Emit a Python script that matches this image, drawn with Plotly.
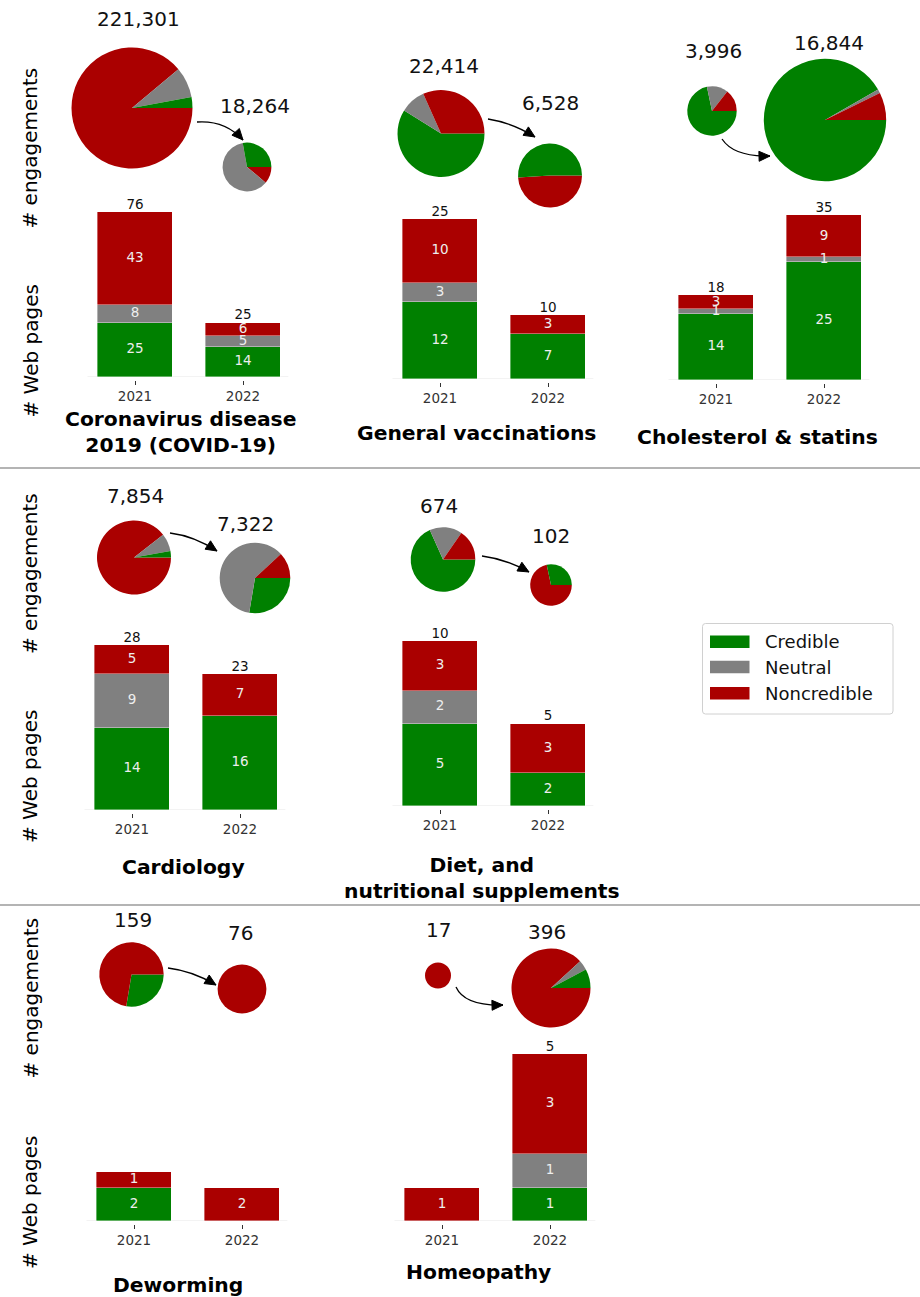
import plotly.graph_objects as go

W, H = 920, 1297
FONT = "DejaVu Sans"

# ---------------- data ----------------
topics = ["Coronavirus disease<br>2019 (COVID-19)", "General vaccinations",
          "Cholesterol & statins", "Cardiology",
          "Diet, and<br>nutritional supplements", "Deworming", "Homeopathy"]
years = ["2021", "2022"]
classes = ["Credible", "Neutral", "Noncredible"]

# number of web pages per credibility class
pages_credible_2021 = [25, 12, 14, 14, 5, 2, 0]
pages_neutral_2021 = [8, 3, 1, 9, 2, 0, 0]
pages_noncredible_2021 = [43, 10, 3, 5, 3, 1, 1]
pages_credible_2022 = [14, 7, 25, 16, 2, 0, 1]
pages_neutral_2022 = [5, 0, 1, 0, 0, 0, 1]
pages_noncredible_2022 = [6, 3, 9, 7, 3, 2, 3]

# total engagements
engagements_2021 = [221301, 22414, 3996, 7854, 674, 159, 17]
engagements_2022 = [18264, 6528, 16844, 7322, 102, 76, 396]

# share of engagements (%) per credibility class
share_credible_2021 = [2.9, 58.9, 71.7, 2.8, 68.3, 27.6, 0]
share_neutral_2021 = [8.2, 9.4, 13.9, 7.8, 16.3, 0, 0]
share_noncredible_2021 = [88.9, 31.7, 14.4, 89.4, 15.4, 72.4, 100]
share_credible_2022 = [27.8, 51.0, 91.7, 27.6, 28.3, 0, 7.8]
share_neutral_2022 = [61.1, 0, 1.0, 60.4, 0, 0, 4.0]
share_noncredible_2022 = [11.1, 49.0, 7.3, 11.9, 71.7, 100, 88.2]

# ---------------- styles / layout (pixels) ----------------
COLORS = ["#008000", "#808080", "#aa0000"]

bar_center0 = [135, 440, 716, 132, 440, 134, 442]      # x of first bar
bar_base = [377, 379, 380, 810, 806, 1221, 1221]        # y of baseline
bar_ytop = [76, 25, 35, 28, 10, 10, 5]                  # axis max
bar_px = [165, 160, 165, 165, 165, 165, 167]            # pixel height of axis
UNIT = 108.0
XR = (-0.44, 1.42)

pie1_c = [(132, 108), (441, 133.5), (712, 111), (134, 557.5), (443, 559.5), (131.5, 974.5), (438, 975.5)]
pie1_r = [60.5, 43.5, 24.7, 37, 32.3, 32.2, 13]
pie2_c = [(247, 167), (550, 175.5), (825, 120), (255, 578), (551, 585), (242, 989), (551, 988)]
pie2_r = [24.4, 32, 61.2, 35.3, 20.8, 24.4, 39.5]
# slice sense (True: credible, neutral, noncredible run clockwise from 3 o'clock)
pie1_cw = [False, True, True, False, True, True, True]
pie2_cw = [False, False, True, True, False, True, False]

lab1 = [(138, 18.5), (444, 66), (713, 51), (135.3, 495.5), (438.5, 506), (132.5, 919.5), (438.7, 929.5)]
lab2 = [(255.5, 106), (550, 103), (829, 43), (245, 524), (551.3, 535.5), (240.8, 933), (546.7, 932)]

arrows = [((197, 122), (225, 120), (243, 140)), ((488, 119), (513, 123), (535, 137)),
          ((722, 139), (734, 157), (770, 156)), ((170, 533), (194, 536), (217, 551)),
          ((482, 556), (506, 559), (529, 572)), ((168, 968), (193, 971), (216, 985)),
          ((456, 987), (464.5, 1006), (503, 1005))]

topic_pos = [(180.5, 432), (476, 433), (757, 437), (183, 867), (482, 877.5), (177.5, 1285), (478, 1272)]
ylab_eng = [148.5, 574, 998.5]
ylab_pages = [351.5, 777, 1203]


def px(x):
    return x / W


def py(y):
    return 1 - y / H


fig = go.Figure()
shapes = []
annotations = []

pages = {
    "2021": [pages_credible_2021, pages_neutral_2021, pages_noncredible_2021],
    "2022": [pages_credible_2022, pages_neutral_2022, pages_noncredible_2022],
}
shares = {
    "2021": [share_credible_2021, share_neutral_2021, share_noncredible_2021],
    "2022": [share_credible_2022, share_neutral_2022, share_noncredible_2022],
}

for i, topic in enumerate(topics):
    k = i + 1
    xa = "x" if k == 1 else f"x{k}"
    ya = "y" if k == 1 else f"y{k}"
    # stacked bars
    for c, cls in enumerate(classes):
        vals = [pages[yr][c][i] for yr in years]
        fig.add_trace(go.Bar(
            x=[0, 1], y=vals, width=0.70, xaxis=xa, yaxis=ya,
            marker=dict(color=COLORS[c], line=dict(width=0.7, color="rgba(255,255,255,0.55)")),
            showlegend=False, hoverinfo="skip", name=cls, cliponaxis=False))
    # segment labels
    sx, sy, st = [], [], []
    tx, ty, tt = [], [], []
    for j, yr in enumerate(years):
        cum = 0
        for c in range(3):
            v = pages[yr][c][i]
            if v > 0:
                sx.append(j)
                sy.append(cum + v / 2)
                st.append(str(v))
            cum += v
        if cum >= 5:  # totals are printed only for totals of five or more
            tx.append(j)
            ty.append(cum)
            tt.append(str(cum))
    fig.add_trace(go.Scatter(x=sx, y=sy, text=st, mode="text", xaxis=xa, yaxis=ya,
                             textfont=dict(family=FONT, size=13.5, color="#eeeeee"),
                             showlegend=False, hoverinfo="skip", cliponaxis=False))
    fig.add_trace(go.Scatter(x=tx, y=ty, text=tt, mode="text", textposition="top center",
                             xaxis=xa, yaxis=ya,
                             textfont=dict(family=FONT, size=13.5, color="#111111"),
                             showlegend=False, hoverinfo="skip", cliponaxis=False))
    x0 = bar_center0[i] + XR[0] * UNIT
    x1 = bar_center0[i] + XR[1] * UNIT
    fig.update_layout(**{
        ("xaxis" if k == 1 else f"xaxis{k}"): dict(
            domain=[px(x0), px(x1)], range=list(XR), anchor="free",
            position=py(bar_base[i] + 3), tickvals=[0, 1], ticktext=years,
            ticks="outside", ticklen=3.5, tickwidth=1.3, tickcolor="#333333",
            tickfont=dict(family=FONT, size=13.5, color="#333333"),
            showline=False, showgrid=False, zeroline=False, fixedrange=True),
        ("yaxis" if k == 1 else f"yaxis{k}"): dict(
            domain=[py(bar_base[i]), py(bar_base[i] - bar_px[i])], range=[0, bar_ytop[i] * 1.0001],
            visible=False, fixedrange=True),
    })
    shapes.append(dict(type="line", xref=f"{xa} domain", yref=ya, x0=0, x1=1, y0=0, y1=0,
                       line=dict(color="#e6e6e6", width=1), layer="below"))

    # pies
    for (cc, rr, cw, eng, lab, yr) in [
        (pie1_c[i], pie1_r[i], pie1_cw[i], engagements_2021[i], lab1[i], "2021"),
        (pie2_c[i], pie2_r[i], pie2_cw[i], engagements_2022[i], lab2[i], "2022"),
    ]:
        vals = [shares[yr][c][i] for c in range(3)]
        cols = list(COLORS)
        labs = list(classes)
        if not cw:
            vals, cols, labs = vals[::-1], cols[::-1], labs[::-1]
        fig.add_trace(go.Pie(
            values=vals, labels=labs, sort=False, direction="clockwise", rotation=90,
            marker=dict(colors=cols, line=dict(width=0)), textinfo="none",
            hoverinfo="skip", showlegend=False,
            domain=dict(x=[px(cc[0] - rr), px(cc[0] + rr)], y=[py(cc[1] + rr), py(cc[1] - rr)])))
        annotations.append(dict(x=px(lab[0]), y=py(lab[1]), xref="paper", yref="paper",
                                text=f"{eng:,}", showarrow=False, xanchor="center", yanchor="middle",
                                font=dict(family=FONT, size=20, color="#111111")))

    # curved arrow
    (sx0, sy0), (qx, qy), (ex, ey) = arrows[i]
    shapes.append(dict(type="path", xref="paper", yref="paper",
                       path=f"M {px(sx0)},{py(sy0)} Q {px(qx)},{py(qy)} {px(ex)},{py(ey)}",
                       line=dict(color="black", width=1.3)))
    dx, dy = ex - qx, ey - qy
    n = (dx * dx + dy * dy) ** 0.5
    dx, dy = dx / n, dy / n
    L, hw = 11, 5
    bx, by = ex - dx * L, ey - dy * L
    p1 = (bx - dy * hw, by + dx * hw)
    p2 = (bx + dy * hw, by - dx * hw)
    shapes.append(dict(type="path", xref="paper", yref="paper",
                       path=f"M {px(ex)},{py(ey)} L {px(p1[0])},{py(p1[1])} L {px(p2[0])},{py(p2[1])} Z",
                       fillcolor="black", line=dict(color="black", width=1)))

    # topic title
    annotations.append(dict(x=px(topic_pos[i][0]), y=py(topic_pos[i][1]), xref="paper", yref="paper",
                            text=f"<b>{topic}</b>", showarrow=False, xanchor="center", yanchor="middle",
                            align="center", font=dict(family=FONT, size=20.3, color="black")))

# row labels
for ye, yp in zip(ylab_eng, ylab_pages):
    annotations.append(dict(x=px(30), y=py(ye), xref="paper", yref="paper", text="# engagements",
                            textangle=-90, showarrow=False, xanchor="center", yanchor="middle",
                            font=dict(family=FONT, size=20, color="black")))
    annotations.append(dict(x=px(30), y=py(yp), xref="paper", yref="paper", text="# Web pages",
                            textangle=-90, showarrow=False, xanchor="center", yanchor="middle",
                            font=dict(family=FONT, size=20, color="black")))

# row separators
for ysep in [468, 905]:
    shapes.append(dict(type="line", xref="paper", yref="paper", x0=0, x1=1, y0=py(ysep), y1=py(ysep),
                       line=dict(color="#b4b4b4", width=2)))

# legend (drawn manually to match wide colour patches)
lx0, lx1, ly0, ly1, rc = 702.5, 893, 623.5, 714, 3
legend_path = (f"M {px(lx0 + rc)},{py(ly0)} L {px(lx1 - rc)},{py(ly0)} "
               f"Q {px(lx1)},{py(ly0)} {px(lx1)},{py(ly0 + rc)} L {px(lx1)},{py(ly1 - rc)} "
               f"Q {px(lx1)},{py(ly1)} {px(lx1 - rc)},{py(ly1)} L {px(lx0 + rc)},{py(ly1)} "
               f"Q {px(lx0)},{py(ly1)} {px(lx0)},{py(ly1 - rc)} L {px(lx0)},{py(ly0 + rc)} "
               f"Q {px(lx0)},{py(ly0)} {px(lx0 + rc)},{py(ly0)} Z")
shapes.append(dict(type="path", xref="paper", yref="paper", path=legend_path,
                   fillcolor="white", line=dict(color="#d0d0d0", width=1)))
legend_y = [641.7, 667, 693.3]
for c, cls in enumerate(classes):
    shapes.append(dict(type="rect", xref="paper", yref="paper", x0=px(710), x1=px(749.5),
                       y0=py(legend_y[c] + 6.3), y1=py(legend_y[c] - 6.3),
                       fillcolor=COLORS[c], line=dict(width=0)))
    annotations.append(dict(x=px(763), y=py(legend_y[c]), xref="paper", yref="paper", text=cls,
                            showarrow=False, xanchor="left", yanchor="middle",
                            font=dict(family=FONT, size=18, color="#111111")))

fig.update_layout(
    width=W, height=H, margin=dict(l=0, r=0, t=0, b=0),
    paper_bgcolor="white", plot_bgcolor="rgba(0,0,0,0)",
    barmode="stack", bargap=0, showlegend=False,
    shapes=shapes, annotations=annotations,
)

fig.write_html("out.html")
